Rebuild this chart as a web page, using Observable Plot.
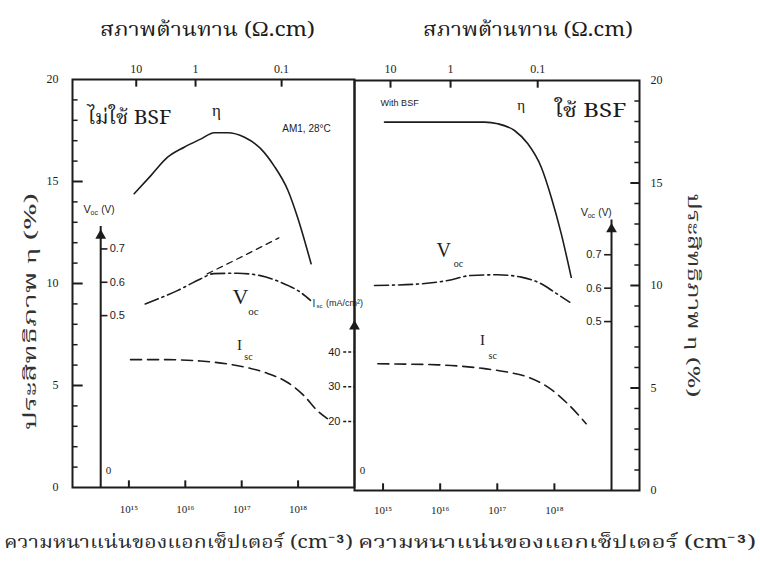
<!DOCTYPE html>
<html>
<head>
<meta charset="utf-8">
<script src="https://cdn.jsdelivr.net/npm/d3@7"></script>
<script src="https://cdn.jsdelivr.net/npm/@observablehq/plot@0.6"></script>
<style>
  html,body{margin:0;padding:0;background:#fff;}
  #chart{position:relative;width:760px;height:577px;overflow:hidden;background:#fff;}
  #chart svg{position:absolute;left:0;top:0;}
</style>
</head>
<body>
<div id="chart"></div>
<script>
// ---------------- data ----------------
// Without BSF (left panel): acceptor density N (cm^-3) vs efficiency (%)
const noBsfEtaN = [1.24e15, 2.45e15, 4.86e15, 9.55e15, 1.91e16, 3.24e16, 5.62e16, 1.12e17, 2.19e17, 3.72e17, 6.61e17, 9.77e17, 1.70e18];
const noBsfEta  = [14.40, 15.29, 16.19, 16.68, 17.09, 17.39, 17.39, 17.17, 16.60, 15.78, 14.56, 13.25, 10.97];
// open-circuit voltage (V)
const noBsfVocN = [1.95e15, 7.24e15, 1.86e16, 3.2e16, 8.3e16, 2.14e17, 4.9e17, 1.1e18, 1.66e18];
const noBsfVoc  = [0.535, 0.575, 0.610, 0.626, 0.627, 0.620, 0.600, 0.570, 0.546];
// dashed Voc continuation
const noBsfVocExtN = [2.44e16, 1.1e17, 4.55e17];
const noBsfVocExt  = [0.625, 0.680, 0.733];
// short-circuit current (mA/cm^2)
const noBsfIscN = [1.07e15, 4.8e15, 1.86e16, 5.5e16, 1.26e17, 2.82e17, 6.4e17, 1.26e18, 2.19e18, 3.3e18];
const noBsfIsc  = [37.8, 37.8, 37.4, 36.6, 35.5, 33.9, 31.3, 27.5, 23.1, 20.8];

// With BSF (right panel)
const bsfEtaN = [1.06e15, 5.98e16, 1.02e17, 2.0e17, 3.43e17, 5.89e17, 8.8e17, 1.32e18, 1.97e18];
const bsfEta  = [17.97, 17.97, 17.89, 17.56, 16.91, 15.77, 14.31, 12.52, 10.40];
const bsfVocN = [7.1e14, 4.66e15, 1.36e16, 3.5e16, 1.02e17, 2.63e17, 5.89e17, 1.0e18, 1.85e18];
const bsfVoc  = [0.608, 0.613, 0.623, 0.638, 0.640, 0.633, 0.613, 0.588, 0.558];
const bsfIscN = [8.1e14, 9.1e15, 6.0e16, 1.53e17, 3.43e17, 7.7e17, 1.72e18, 3.6e18];
const bsfIsc  = [37.3, 37.0, 35.9, 34.9, 33.5, 30.6, 25.8, 20.1];

// ticks
const etaTicks = [0, 5, 10, 15, 20];
const vocTicks = [0.5, 0.6, 0.7];
const iscTicks = [20, 30, 40];
const dopingTicks = [1e15, 1e16, 1e17, 1e18];
const rhoLabels = ["10", "1", "0.1"];
const rhoDoping = [1.35e15, 1.52e16, 5.1e17];

// texts
const titleTop = "สภาพต้านทาน (Ω.cm)";
const titleBottom = "ความหนาแน่นของแอกเซ็ปเตอร์ (cm⁻³)";
const titleY = "ประสิทธิภาพ η (%)";
const labelNoBsf = "ไม่ใช้ BSF";
const labelBsf = "ใช้ BSF";
const labelCond = "AM1, 28°C";
const labelWith = "With BSF";

// ---------------- helpers ----------------
const zip = (ns, vs) => ns.map((n, i) => ({n, v: vs[i]}));
// secondary axes expressed on the efficiency axis
const vocLeft = v => 10.06 + (v - 0.6) * 16.35;
const vocRight = v => 9.87 + (v - 0.6) * 16.3;
const iscY = i => 6.64 + (i - 40) * 0.17;
const sup = {"0":"⁰","1":"¹","2":"²","3":"³","4":"⁴","5":"⁵","6":"⁶","7":"⁷","8":"⁸","9":"⁹","-":"⁻"};
const fmtPow = d => "10" + String(Math.round(Math.log10(d))).split("").map(c => sup[c]).join("");
const p10 = e => Math.pow(10, e);

const ink = "#1c1c1c";
const serif = "'Liberation Serif','DejaVu Serif',serif";
const sans = "'Liberation Sans','DejaVu Sans',sans-serif";
const thai = "'Noto Serif Thai','Noto Sans Thai','Loma','Garuda','Norasi',serif";
const minor = d3.range(1, 20).filter(d => d % 5 !== 0);

// panel domains (log10 of acceptor density)
const leftLo = 14, leftHi = 19;
const rightLo = 14.5, rightHi = 19.49;
const vocAxisLeftN = p10(14.5);
const vocAxisRightN = 1e19;

// short tick segments as link marks (x in cm^-3, y on the efficiency axis)
const hTicks = (ys, xa, xb) => ys.map(y => ({xa, xb, ya: y, yb: y}));
const vTicks = (xs, ya, yb) => xs.map(x => ({xa: x, xb: x, ya, yb}));
const tickLinks = (rows, w, extra) => Plot.link(rows, {x1: "xa", x2: "xb", y1: "ya", y2: "yb", stroke: ink, strokeWidth: w, ...(extra || {})});

function subLabel(x, y, big, small, rest, opts) {
  const {fs = 11, sfs = 7, w = 7} = opts || {};
  return [
    Plot.text([0], {x: () => x, y: () => y, text: () => big, textAnchor: "start", fontSize: fs, fontFamily: sans, fill: ink}),
    Plot.text([0], {x: () => x, y: () => y, text: () => small, textAnchor: "start", dx: w, dy: fs * 0.3, fontSize: sfs, fontFamily: sans, fill: ink}),
    ...(rest ? [Plot.text([0], {x: () => x, y: () => y, text: () => rest, textAnchor: "start", dx: w + small.length * sfs * 0.55 + 3, fontSize: fs - 1, fontFamily: sans, fill: ink})] : [])
  ];
}

const chart = document.getElementById("chart");

// ---------------- left panel: without BSF ----------------
const left = Plot.plot({
  width: 760, height: 577,
  marginLeft: 72, marginRight: 406, marginTop: 79, marginBottom: 90,
  x: {type: "log", domain: [p10(leftLo), p10(leftHi)]},
  y: {domain: [0, 20]},
  style: {background: "transparent", color: ink, fontFamily: sans, overflow: "visible"},
  marks: [
    Plot.frame({stroke: ink, strokeWidth: 2}),
    Plot.axisY(etaTicks, {anchor: "left", tickSize: 0, tickPadding: 14, fontSize: 12, fontFamily: serif, label: null}),
    tickLinks(hTicks(etaTicks.slice(1, -1), p10(leftLo), p10(leftLo + 0.18)), 2),
    tickLinks(hTicks(minor, p10(leftLo), p10(leftLo + 0.09)), 1.5),
    Plot.axisX(dopingTicks, {anchor: "bottom", tickSize: 0, tickPadding: 18, tickFormat: fmtPow, fontSize: 11, fontFamily: serif, label: null}),
    tickLinks(vTicks(dopingTicks, 0, 0.35), 2),
    Plot.text(rhoDoping, {x: d => d, frameAnchor: "top", dy: -15, text: (d, i) => rhoLabels[i], fontSize: 12, fontFamily: serif, fill: ink}),
    tickLinks(vTicks(rhoDoping, 20, 19.65), 2),
    // Voc axis
    Plot.ruleX([vocAxisLeftN], {x: d => d, y1: () => 0, y2: () => 12.8, stroke: ink, strokeWidth: 2}),
    Plot.dot([vocAxisLeftN], {x: d => d, y: () => 12.35, symbol: "triangle", r: 4, fill: ink}),
    tickLinks(hTicks(vocTicks.map(vocLeft), vocAxisLeftN, p10(14.62)), 1.6),
    Plot.text(vocTicks, {x: () => vocAxisLeftN, y: vocLeft, text: d => d.toFixed(1), dx: 9, textAnchor: "start", fontSize: 11, fill: ink}),
    Plot.text(["0"], {x: () => 4.37e14, y: () => 0.83, text: d => d, fontSize: 11, fontFamily: serif, fill: ink}),
    ...subLabel(1.57e14, 13.63, "V", "oc", "(V)", {fs: 11, sfs: 7, w: 7}),
    // Isc axis on the divider
    tickLinks(hTicks(iscTicks.map(iscY), p10(leftHi - 0.2), p10(leftHi)), 1.5, {strokeDasharray: "3,2"}),
    Plot.text(iscTicks, {y: iscY, frameAnchor: "right", text: d => String(d), dx: -14, textAnchor: "end", fontSize: 11, fill: ink}),
    Plot.dot([0], {frameAnchor: "right", y: () => 7.9, symbol: "triangle", r: 4, fill: ink}),
    ...subLabel(1.8e18, 9.02, "I", "sc", "(mA/cm²)", {fs: 10, sfs: 6, w: 4}),
    // curves
    Plot.line(zip(noBsfEtaN, noBsfEta), {x: "n", y: "v", curve: "monotone-x", stroke: ink, strokeWidth: 1.6}),
    Plot.line(zip(noBsfVocN, noBsfVoc), {x: "n", y: d => vocLeft(d.v), curve: "monotone-x", stroke: ink, strokeWidth: 1.6, strokeDasharray: "14,4,2,4"}),
    Plot.line(zip(noBsfVocExtN, noBsfVocExt), {x: "n", y: d => vocLeft(d.v), stroke: ink, strokeWidth: 1.3, strokeDasharray: "6,5"}),
    Plot.line(zip(noBsfIscN, noBsfIsc), {x: "n", y: d => iscY(d.v), curve: "monotone-x", stroke: ink, strokeWidth: 1.6, strokeDasharray: "11,6"}),
    // labels
    Plot.text([labelNoBsf], {x: () => 1.02e15, y: () => 18.14, text: d => d, fontFamily: thai, fontSize: 20, fill: ink}),
    Plot.text(["η"], {x: () => 3.55e16, y: () => 18.48, text: d => d, fontFamily: serif, fontSize: 17, fill: ink}),
    Plot.text([labelCond], {x: () => 1.41e18, y: () => 17.6, text: d => d, fontFamily: sans, fontSize: 10, fill: ink}),
    Plot.text(["V"], {x: () => 9.5e16, y: () => 9.36, text: d => d, fontFamily: serif, fontSize: 22, fill: ink}),
    Plot.text(["oc"], {x: () => 1.62e17, y: () => 8.63, text: d => d, fontFamily: serif, fontSize: 11, fill: ink}),
    Plot.text(["I"], {x: () => 9.1e16, y: () => 6.96, text: d => d, fontFamily: serif, fontSize: 15, fill: ink}),
    Plot.text(["sc"], {x: () => 1.32e17, y: () => 6.42, text: d => d, fontFamily: serif, fontSize: 10, fill: ink}),
    // titles
    Plot.text([titleTop], {frameAnchor: "top", dx: -6, dy: -58, text: d => d, fontFamily: thai, fontSize: 20, fill: ink}),
    Plot.text([titleBottom], {frameAnchor: "bottom", dx: -35, dy: 60, text: d => d, fontFamily: thai, fontSize: 18, fill: "#2a2a2a"}),
    Plot.text([titleY], {frameAnchor: "left", textAnchor: "middle", dx: -42, dy: 28, rotate: -90, text: d => d, fontFamily: thai, fontSize: 17, fill: "#333"})
  ]
});

// ---------------- right panel: with BSF ----------------
const right = Plot.plot({
  width: 760, height: 577,
  marginLeft: 354, marginRight: 121, marginTop: 80, marginBottom: 87,
  x: {type: "log", domain: [p10(rightLo), p10(rightHi)]},
  y: {domain: [0, 20]},
  style: {background: "transparent", color: ink, fontFamily: sans, overflow: "visible"},
  marks: [
    Plot.frame({stroke: ink, strokeWidth: 2}),
    Plot.axisY(etaTicks, {anchor: "right", tickSize: 0, tickPadding: 11, fontSize: 12, fontFamily: serif, label: null}),
    tickLinks(hTicks(etaTicks.slice(1, -1), p10(rightHi - 0.16), p10(rightHi)), 2),
    tickLinks(hTicks(minor, p10(rightHi - 0.09), p10(rightHi)), 1.5),
    Plot.axisX(dopingTicks, {anchor: "bottom", tickSize: 0, tickPadding: 16, tickFormat: fmtPow, fontSize: 11, fontFamily: serif, label: null}),
    tickLinks(vTicks(dopingTicks, 0, 0.35), 2),
    Plot.text(rhoDoping, {x: d => d, frameAnchor: "top", dy: -16, text: (d, i) => rhoLabels[i], fontSize: 12, fontFamily: serif, fill: ink}),
    tickLinks(vTicks(rhoDoping, 20, 19.65), 2),
    // Voc axis
    Plot.ruleX([vocAxisRightN], {x: d => d, y1: () => 0, y2: () => 13.2, stroke: ink, strokeWidth: 2}),
    Plot.dot([vocAxisRightN], {x: d => d, y: () => 12.75, symbol: "triangle", r: 4, fill: ink}),
    tickLinks(hTicks(vocTicks.map(vocRight), p10(18.87), vocAxisRightN), 1.6),
    Plot.text(vocTicks, {x: () => vocAxisRightN, y: vocRight, text: d => d.toFixed(1), dx: -10, textAnchor: "end", fontSize: 11, fill: ink}),
    Plot.text(["0"], {x: () => 4.37e14, y: () => 0.98, text: d => d, fontSize: 11, fontFamily: serif, fill: ink}),
    ...subLabel(2.88e18, 13.56, "V", "oc", "(V)", {fs: 11, sfs: 7, w: 7}),
    // curves
    Plot.line(zip(bsfEtaN, bsfEta), {x: "n", y: "v", curve: "monotone-x", stroke: ink, strokeWidth: 1.6}),
    Plot.line(zip(bsfVocN, bsfVoc), {x: "n", y: d => vocRight(d.v), curve: "monotone-x", stroke: ink, strokeWidth: 1.6, strokeDasharray: "14,4,2,4"}),
    Plot.line(zip(bsfIscN, bsfIsc), {x: "n", y: d => iscY(d.v), curve: "monotone-x", stroke: ink, strokeWidth: 1.6, strokeDasharray: "11,6"}),
    // labels
    Plot.text([labelWith], {x: () => 1.95e15, y: () => 18.88, text: d => d, fontFamily: sans, fontSize: 9, fill: ink}),
    Plot.text(["η"], {x: () => 2.63e17, y: () => 18.78, text: d => d, fontFamily: serif, fontSize: 15, fill: ink}),
    Plot.text([labelBsf], {x: () => 4.27e18, y: () => 18.54, text: d => d, fontFamily: thai, fontSize: 20, fill: ink}),
    Plot.text(["V"], {x: () => 1.15e16, y: () => 11.71, text: d => d, fontFamily: serif, fontSize: 20, fill: ink}),
    Plot.text(["oc"], {x: () => 2.09e16, y: () => 11.07, text: d => d, fontFamily: serif, fontSize: 10, fill: ink}),
    Plot.text(["I"], {x: () => 5.5e16, y: () => 7.32, text: d => d, fontFamily: serif, fontSize: 15, fill: ink}),
    Plot.text(["sc"], {x: () => 8.3e16, y: () => 6.59, text: d => d, fontFamily: serif, fontSize: 10, fill: ink}),
    // titles
    Plot.text([titleTop], {frameAnchor: "top", dx: 31, dy: -59, text: d => d, fontFamily: thai, fontSize: 20, fill: ink}),
    Plot.text([titleBottom], {frameAnchor: "bottom", dx: 60, dy: 57, text: d => d, fontFamily: thai, fontSize: 18, fill: "#2a2a2a"}),
    Plot.text([titleY], {frameAnchor: "right", textAnchor: "middle", dx: 54, dy: 10, rotate: 90, text: d => d, fontFamily: thai, fontSize: 17, fill: "#333"})
  ]
});

chart.appendChild(left);
chart.appendChild(right);

// stretch the wide scanned lettering to its measured widths
function fit(svg, str, len) {
  svg.querySelectorAll("text").forEach(t => {
    if (t.textContent === str) {
      t.setAttribute("textLength", len);
      t.setAttribute("lengthAdjust", "spacingAndGlyphs");
    }
  });
}
fit(left, titleTop, 215);
fit(right, titleTop, 210);
fit(left, titleBottom, 349);
fit(right, titleBottom, 398);
fit(left, titleY, 237);
fit(right, titleY, 204);
fit(left, labelNoBsf, 84);
fit(right, labelBsf, 72);
</script>
</body>
</html>
